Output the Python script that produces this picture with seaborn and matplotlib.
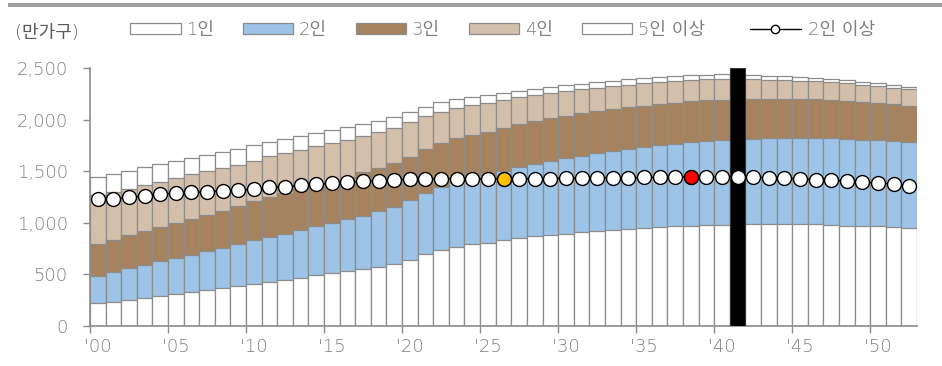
import numpy as np
import pandas as pd
import matplotlib
matplotlib.use("Agg")
import matplotlib.pyplot as plt
from matplotlib.patches import Patch, Rectangle
from matplotlib.lines import Line2D
import seaborn as sns

# 가구원수별 가구 수 (만가구), 2000~2052
years = list(range(2000, 2053))

one_person = [220, 236, 255, 271, 291, 310, 329, 351, 367, 386,
              411, 430, 446, 468, 494, 510, 530, 552, 571, 599,
              644, 695, 733, 769, 791, 807, 829, 851, 870, 886,
              896, 912, 922, 931, 941, 950, 960, 966, 972, 979,
              982, 985, 988, 988, 988, 988, 985, 979, 972, 972,
              969, 963, 953]
two_person = [268, 290, 303, 321, 337, 350, 363, 376, 388, 405,
              418, 434, 447, 463, 475, 488, 503, 516, 542, 558,
              577, 596, 615, 621, 634, 653, 676, 688, 701, 714,
              729, 736, 751, 765, 774, 784, 790, 800, 810, 813,
              819, 824, 828, 835, 838, 838, 838, 841, 841, 835,
              832, 829, 829]
three_person = [309, 312, 322, 332, 332, 341, 347, 350, 363, 369,
                379, 388, 395, 399, 401, 410, 414, 420, 421, 427,
                420, 420, 427, 430, 427, 423, 413, 415, 412, 414,
                411, 414, 408, 404, 404, 402, 401, 398, 395, 394,
                388, 386, 383, 376, 373, 370, 373, 369, 371, 367,
                363, 359, 354]
four_person = [475, 459, 449, 444, 440, 433, 430, 421, 412, 402,
               395, 396, 389, 376, 373, 367, 357, 351, 343, 332,
               332, 320, 303, 297, 289, 281, 271, 261, 254, 246,
               243, 233, 230, 227, 220, 216, 214, 211, 207, 204,
               205, 197, 191, 188, 185, 182, 175, 172, 168, 165,
               163, 160, 159]
five_plus = [175, 175, 175, 175, 172, 166, 160, 160, 156, 156,
             147, 137, 139, 133, 125, 124, 121, 118, 112, 105,
             99, 95, 89, 86, 81, 77, 71, 64, 61, 57,
             54, 53, 52, 51, 50, 50, 48, 47, 44, 45,
             44, 44, 42, 38, 35, 35, 32, 33, 29, 29,
             28, 28, 25]
two_plus = [1227, 1233, 1247, 1259, 1275, 1288, 1294, 1301, 1307, 1313,
            1326, 1345, 1351, 1363, 1374, 1383, 1393, 1402, 1405, 1415,
            1422, 1424, 1425, 1425, 1426, 1426, 1427, 1427, 1428, 1429,
            1430, 1432, 1434, 1435, 1437, 1440, 1441, 1443, 1444, 1444,
            1443, 1444, 1441, 1437, 1431, 1425, 1418, 1412, 1405, 1396,
            1386, 1373, 1360]

series_names = ["1인", "2인", "3인", "4인", "5인 이상"]
series_colors = ["#FFFFFF", "#9DC3E6", "#A6835E", "#D4C0AA", "#FFFFFF"]
line_name = "2인 이상"

divider_year = 2041                       # 검은 막대 표시 연도
point_highlights = {2026: "#FFC000", 2038: "#FF0000"}

y_ticks = [0, 500, 1000, 1500, 2000, 2500]
x_tick_years = list(range(2000, 2051, 5))
x_tick_labels = ["'00", "'05", "'10", "'15", "'20", "'25",
                 "'30", "'35", "'40", "'45", "'50"]

# ---------------------------------------------------------------
sns.set_theme(style="white")
plt.rcParams["font.family"] = ["DejaVu Sans", "Noto Sans CJK KR"]
plt.rcParams["font.weight"] = "light"

TXT = "#7F7F7F"
EDGE = "#8C8C8C"
FS = 13

df = pd.DataFrame({"year": years, "1인": one_person, "2인": two_person,
                   "3인": three_person, "4인": four_person, "5인 이상": five_plus})
df["x"] = np.arange(len(years))
cum = df[series_names].cumsum(axis=1)

fig = plt.figure(figsize=(9.42, 3.66), dpi=100)
ax = fig.add_axes([90 / 942, 1 - 326 / 366, (917 - 90) / 942, (326 - 68) / 366])

# stacked bars: draw cumulative heights from the top layer down
for name, color in reversed(list(zip(series_names, series_colors))):
    sns.barplot(x=df["x"], y=cum[name], color=color, width=1.0, ax=ax,
                edgecolor=EDGE, linewidth=0.9, saturation=1, native_scale=True)

# vertical black marker bar
div_x = years.index(divider_year)
ax.bar([div_x], [y_ticks[-1]], width=1.0, color="black", edgecolor="#333333",
       linewidth=0.8, zorder=3)

# 2인 이상 line
sns.lineplot(x=df["x"], y=two_plus, ax=ax, color="black", linewidth=1.0,
             marker="o", markersize=10, markerfacecolor="white",
             markeredgecolor="black", markeredgewidth=1.0, zorder=5)
for yr, col in point_highlights.items():
    i = years.index(yr)
    ax.plot([i], [two_plus[i]], marker="o", markersize=10, markerfacecolor=col,
            markeredgecolor="black", markeredgewidth=1.0, zorder=6, linestyle="none")

ax.set_xlim(-0.5, len(years) - 0.5)
ax.set_ylim(0, 2500)
ax.set_xlabel("")
ax.set_ylabel("")

ax.set_yticks(y_ticks)
ax.set_yticklabels([f"{v:,}" for v in y_ticks], fontsize=FS, color=TXT)
ax.tick_params(axis="y", direction="out", length=5, width=1, color=EDGE, pad=11, left=True)

pos = [years.index(y) for y in x_tick_years]
ax.set_xticks([p - 0.5 for p in pos])
ax.set_xticklabels([])
ax.tick_params(axis="x", which="major", direction="out", length=5, width=1,
               color=EDGE, bottom=True)
ax.set_xticks(pos, minor=True)
ax.set_xticklabels(x_tick_labels, minor=True, fontsize=FS, color=TXT)
ax.tick_params(axis="x", which="minor", length=0, pad=9)

for s in ["top", "right"]:
    ax.spines[s].set_visible(False)
for s in ["left", "bottom"]:
    ax.spines[s].set_color(EDGE)
    ax.spines[s].set_linewidth(1.2)
ax.grid(False)

# legend: bar series
handles = [Patch(facecolor=c, edgecolor=EDGE, linewidth=0.9) for c in series_colors]
leg = fig.legend(handles, series_names, loc="center left",
                 bbox_to_anchor=(130 / 942, 1 - 30 / 366), ncol=5, frameon=False,
                 fontsize=FS, handlelength=2.8, handleheight=0.5,
                 handletextpad=0.3, columnspacing=1.6, borderaxespad=0,
                 borderpad=0)
for t in leg.get_texts():
    t.set_color(TXT)

# legend: line series
line_handle = Line2D([0], [0], color="black", linewidth=1.0, marker="o",
                     markersize=6, markerfacecolor="white", markeredgecolor="black")
leg2 = fig.legend([line_handle], [line_name], loc="center left",
                  bbox_to_anchor=(750 / 942, 1 - 30 / 366), frameon=False,
                  fontsize=FS, handlelength=2.8, handletextpad=0.4,
                  borderaxespad=0, borderpad=0)
for t in leg2.get_texts():
    t.set_color(TXT)

fig.text(15 / 942, 1 - 33 / 366, "(만가구)", fontsize=FS, color="#595959",
         va="center", ha="left")

# top rule
fig.add_artist(Rectangle((8 / 942, 1 - 7 / 366), 1 - 8 / 942, 3.6 / 366,
                         transform=fig.transFigure, facecolor="#A0A0A0",
                         edgecolor="none"))

fig.savefig("out.png", dpi=100)
